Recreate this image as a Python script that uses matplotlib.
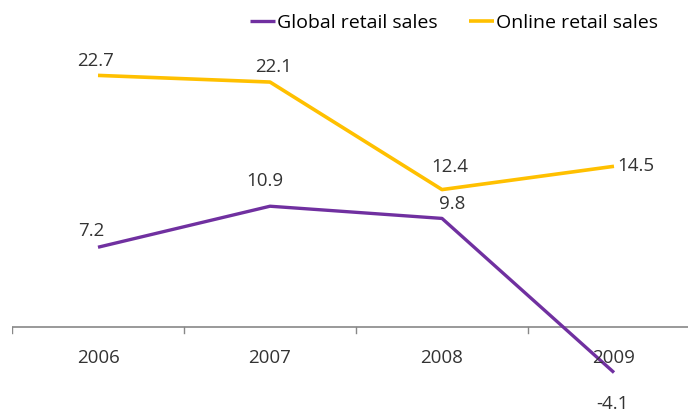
import matplotlib.pyplot as plt

years = ['2006', '2007', '2008', '2009']
global_sales = [7.2, 10.9, 9.8, -4.1]
online_sales = [22.7, 22.1, 12.4, 14.5]

# label offsets in pixels (dx, dy)
global_offsets = [(-7, 16), (-5, 25), (10, 14), (-2, -31)]
online_offsets = [(-2, 14), (4, 15), (8, 23), (22, 0)]

purple = '#7030A0'
gold = '#FFC000'

plt.rcParams['font.family'] = ['Open Sans', 'DejaVu Sans']

fig = plt.figure(figsize=(6.88, 4.12), dpi=100)
ax = fig.add_axes([12 / 688, 0, (700 - 12) / 688, 1])

x = list(range(len(years)))
ax.plot(x, global_sales, color=purple, lw=2.4, label='Global retail sales', solid_capstyle='butt')
ax.plot(x, online_sales, color=gold, lw=2.6, label='Online retail sales', solid_capstyle='butt')

for xi, v, (dx, dy) in zip(x, global_sales, global_offsets):
    ax.annotate(f'{v}', (xi, v), xytext=(dx, dy), textcoords='offset pixels',
                ha='center', va='center', fontsize=13.5, color='#333333')
for xi, v, (dx, dy) in zip(x, online_sales, online_offsets):
    ax.annotate(f'{v}', (xi, v), xytext=(dx, dy), textcoords='offset pixels',
                ha='center', va='center', fontsize=13.5, color='#333333')

ax.set_xlim(-0.5, 3.5)
ax.set_ylim(-7.66, 29.5)

for s in ['top', 'right', 'left', 'bottom']:
    ax.spines[s].set_visible(False)
ax.axhline(0, color='#888888', lw=1.2, zorder=0)
for b in [-0.5, 0.5, 1.5, 2.5]:
    ax.plot([b, b], [0, -0.5], color='#888888', lw=1.0, zorder=0)

ax.set_yticks([])
ax.set_xticks([])
for xi, yr in zip(x, years):
    ax.text(xi, -2.75, yr, ha='center', va='center', fontsize=13.5, color='#333333')

ax.legend(loc='upper left', bbox_to_anchor=(236 / 688, 1.0), bbox_transform=fig.transFigure,
          ncol=2, frameon=False, fontsize=14, handlelength=1.3, handletextpad=0.1,
          columnspacing=1.6, borderaxespad=0.3)

fig.savefig('out.png', dpi=100)
